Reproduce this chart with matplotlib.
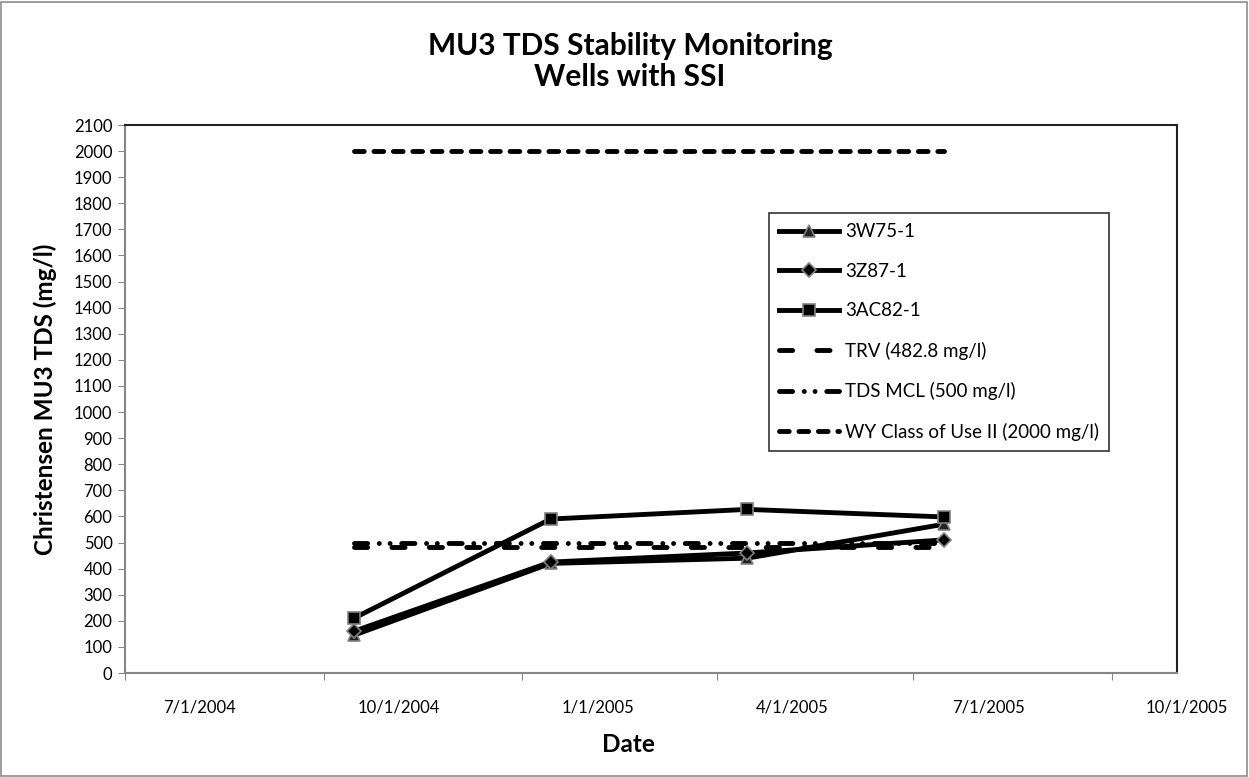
import datetime as dt

import matplotlib
matplotlib.use("Agg")
import matplotlib.pyplot as plt
import matplotlib.dates as mdates
from matplotlib.patches import Rectangle
from matplotlib.transforms import ScaledTranslation

plt.rcParams["font.family"] = ["Lato", "DejaVu Sans"]

# sampling dates and TDS results (mg/l)
sample_dates = [dt.date(2004, 10, 15), dt.date(2005, 1, 14), dt.date(2005, 4, 15), dt.date(2005, 7, 15)]
tds_3w75 = [145, 420, 440, 570]
tds_3z87 = [160, 425, 460, 510]
tds_3ac82 = [210, 590, 627, 598]

# reference levels (mg/l)
trv_level = 482.8
mcl_level = 500
class_ii_level = 2000

tick_dates = [dt.date(2004, 7, 1), dt.date(2004, 10, 1), dt.date(2005, 1, 1),
              dt.date(2005, 4, 1), dt.date(2005, 7, 1), dt.date(2005, 10, 1)]
y_ticks = list(range(0, 2101, 100))

W, H = 1249, 777
fig = plt.figure(figsize=(W / 100, H / 100), dpi=100)
ax = fig.add_axes([125 / W, 1 - 673 / H, 1052 / W, 548 / H])

lw = 3.5
ax.plot(sample_dates, tds_3w75, color="black", lw=lw, marker="^", ms=8.5,
        mfc="#222222", mec="#808080", mew=1.2, label="3W75-1", zorder=5)
ax.plot(sample_dates, tds_3z87, color="black", lw=lw, marker="D", ms=7,
        mfc="black", mec="#808080", mew=1.2, label="3Z87-1", zorder=5)
ax.plot(sample_dates, tds_3ac82, color="black", lw=lw, marker="s", ms=8.5,
        mfc="black", mec="#808080", mew=1.2, label="3AC82-1", zorder=5)

span = [sample_dates[0], sample_dates[-1]]
ax.plot(span, [trv_level] * 2, color="black", lw=lw, dashes=(2.7, 5.0),
        dash_capstyle="round", label="TRV (482.8 mg/l)")
ax.plot(span, [mcl_level] * 2, color="black", lw=lw, dashes=(2.7, 2.4, 0.01, 2.2, 0.01, 2.4),
        dash_capstyle="round", label="TDS MCL (500 mg/l)")
ax.plot(span, [class_ii_level] * 2, color="black", lw=lw, dashes=(2.0, 2.0),
        dash_capstyle="round", label="WY Class of Use II (2000 mg/l)")

ax.set_xlim(dt.date(2004, 7, 1), dt.date(2005, 10, 31))
ax.set_ylim(0, 2100)
ax.set_yticks(y_ticks)
ax.set_xticks(tick_dates)
ax.xaxis.set_major_formatter(mdates.DateFormatter("%-m/%-d/%Y"))

ax.tick_params(axis="both", direction="out", length=5, color="#868686",
               labelsize=12, pad=4)
ax.tick_params(axis="x", pad=14)
# labels sit to the right of their tick marks, as in the original
shift = ScaledTranslation(75 / 100, 0, fig.dpi_scale_trans)
for lab in ax.get_xticklabels():
    lab.set_transform(lab.get_transform() + shift)

for side in ["left", "bottom"]:
    ax.spines[side].set_color("#868686")
    ax.spines[side].set_linewidth(1.5)
for side in ["top", "right"]:
    ax.spines[side].set_color("#222222")
    ax.spines[side].set_linewidth(1.5)

ax.set_ylabel("Christensen MU3 TDS (mg/l)", fontsize=17.5, fontweight="bold")
ax.yaxis.set_label_coords(-80 / 1052, 0.5)
ax.yaxis.label.set_verticalalignment("center")
fig.text(628 / W, 1 - 745 / H, "Date", ha="center", va="center", fontsize=17.5, fontweight="bold")
fig.text(630 / W, 1 - 46 / H, "MU3 TDS Stability Monitoring", ha="center", va="center",
         fontsize=21.5, fontweight="bold")
fig.text(630 / W, 1 - 77 / H, "Wells with SSI", ha="center", va="center",
         fontsize=21.5, fontweight="bold")

leg = ax.legend(loc="upper left", bbox_to_anchor=((769 - 125) / 1052, (673 - 213) / 548),
                borderaxespad=0, fontsize=13.5, handlelength=3.2, handletextpad=0.3,
                labelspacing=1.2, numpoints=1, fancybox=False, borderpad=0.55)
leg.get_frame().set_edgecolor("black")
leg.get_frame().set_linewidth(1.2)

fig.patches.append(Rectangle((1 / W, 1 / H), 1 - 3 / W, 1 - 3 / H, transform=fig.transFigure,
                             fill=False, edgecolor="#8c8c8c", lw=1.2))

fig.savefig("out.png", dpi=100)
